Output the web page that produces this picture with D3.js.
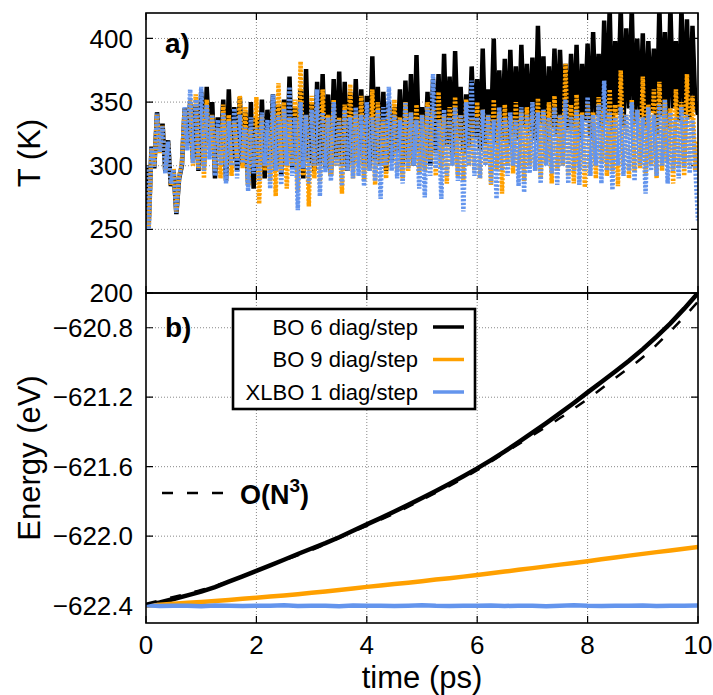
<!DOCTYPE html>
<html>
<head>
<meta charset="utf-8">
<script src="https://cdn.jsdelivr.net/npm/d3@7"></script>
<style>
  body { margin: 0; background: #fff; }
  text { font-family: "Liberation Sans", Arial, Helvetica, sans-serif; }
</style>
</head>
<body>
<svg id="chart" width="713" height="695"></svg>
<script>
// panel a) temperature, one value every 0.05 ps
const tempStep = 0.05;
const tempBO6 = [
  300, 255, 315, 298, 342, 312, 333, 295, 320, 284, 296, 262, 290, 300, 345, 316, 350, 305, 348, 296,
  358, 300, 362, 318, 350, 290, 338, 312, 352, 288, 360, 305, 346, 296, 354, 300, 342, 285, 350, 282,
  338, 298, 352, 290, 344, 302, 356, 296, 348, 292, 352, 300, 370, 298, 346, 296, 360, 290, 376, 302,
  350, 296, 366, 300, 372, 298, 356, 292, 368, 305, 374, 300, 366, 296, 358, 302, 368, 308, 360, 300,
  355, 298, 386, 305, 362, 300, 358, 296, 350, 304, 346, 310, 360, 300, 367, 305, 372, 300, 387, 310,
  346, 304, 358, 300, 368, 310, 372, 305, 388, 315, 370, 308, 390, 320, 362, 310, 356, 315, 378, 322,
  368, 312, 392, 318, 360, 325, 400, 318, 375, 320, 384, 315, 391, 325, 378, 320, 395, 330, 380, 325,
  385, 320, 410, 332, 386, 318, 378, 330, 392, 325, 391, 335, 380, 328, 388, 330, 395, 320, 380, 336,
  396, 322, 405, 340, 388, 330, 414, 335, 425, 325, 398, 340, 425, 330, 408, 345, 425, 333, 400, 338,
  404, 330, 398, 342, 392, 325, 425, 340, 405, 330, 425, 345, 398, 335, 425, 340, 415, 338, 410, 350,
  340
];
const tempBO9 = [
  300, 252, 313, 300, 340, 310, 332, 296, 318, 285, 298, 264, 292, 302, 344, 314, 352, 300, 356, 298,
  345, 290, 352, 312, 340, 296, 330, 290, 348, 300, 340, 292, 334, 306, 355, 298, 346, 284, 330, 300,
  354, 270, 340, 296, 330, 288, 345, 276, 365, 296, 350, 282, 338, 300, 352, 280, 382, 292, 340, 268,
  355, 290, 348, 286, 360, 300, 340, 292, 352, 300, 338, 278, 348, 296, 364, 290, 342, 300, 355, 288,
  340, 296, 360, 285, 350, 300, 336, 290, 344, 302, 352, 296, 338, 288, 350, 296, 342, 300, 348, 294,
  340, 296, 350, 305, 344, 292, 358, 298, 340, 286, 346, 300, 354, 292, 340, 288, 352, 300, 338, 296,
  350, 290, 344, 302, 340, 285, 352, 296, 342, 278, 348, 300, 338, 294, 350, 298, 342, 288, 346, 300,
  340, 296, 353, 290, 344, 302, 350, 286, 355, 296, 340, 300, 380, 292, 348, 286, 356, 298, 342, 283,
  350, 298, 342, 290, 354, 302, 345, 292, 360, 296, 348, 284, 375, 300, 340, 290, 352, 296, 344, 298,
  370, 292, 348, 300, 360, 290, 366, 296, 352, 302, 345, 286, 360, 298, 350, 292, 372, 300, 355, 296,
  320
];
const tempXLBO = [
  300, 250, 314, 299, 341, 311, 331, 294, 319, 286, 297, 263, 291, 301, 346, 312, 360, 302, 352, 297,
  362, 296, 348, 305, 340, 292, 336, 300, 342, 286, 335, 300, 345, 290, 340, 302, 330, 280, 338, 294,
  330, 288, 342, 300, 336, 282, 356, 296, 340, 285, 345, 300, 362, 292, 338, 265, 350, 298, 340, 286,
  344, 300, 360, 276, 342, 295, 338, 288, 350, 300, 336, 284, 344, 296, 338, 290, 346, 292, 340, 284,
  350, 296, 338, 288, 344, 274, 346, 300, 362, 296, 340, 290, 336, 286, 350, 298, 342, 300, 336, 282,
  340, 275, 346, 292, 372, 298, 336, 274, 344, 292, 338, 300, 346, 288, 340, 264, 350, 300, 367, 292,
  338, 290, 344, 300, 340, 286, 336, 274, 346, 296, 338, 292, 342, 300, 336, 284, 346, 279, 340, 294,
  350, 296, 342, 286, 344, 300, 338, 294, 346, 285, 340, 300, 352, 286, 338, 296, 344, 285, 340, 296,
  354, 292, 340, 300, 348, 286, 367, 296, 342, 281, 338, 300, 346, 292, 340, 296, 350, 288, 344, 300,
  338, 278, 346, 296, 340, 292, 348, 300, 352, 286, 342, 296, 338, 290, 346, 298, 340, 294, 336, 300,
  257
];

// panel b) energy, one value every 0.25 ps
const energyStep = 0.25;
const energyBO6 = [
  -622.400, -622.382, -622.362, -622.341, -622.319, -622.293, -622.262, -622.232, -622.200,
  -622.168, -622.136, -622.103, -622.071, -622.040, -622.006, -621.969, -621.932,
  -621.896, -621.858, -621.820, -621.780, -621.740, -621.698, -621.655, -621.610,
  -621.562, -621.512, -621.459, -621.404, -621.349, -621.292, -621.233, -621.172,
  -621.112, -621.052, -620.990, -620.923, -620.851, -620.775, -620.690, -620.600
];
const energyBO9 = [
  -622.400, -622.395, -622.389, -622.384, -622.379, -622.373, -622.367, -622.361, -622.355,
  -622.348, -622.341, -622.334, -622.326, -622.318, -622.310, -622.301, -622.292,
  -622.284, -622.276, -622.268, -622.259, -622.250, -622.242, -622.233, -622.224,
  -622.214, -622.204, -622.194, -622.184, -622.174, -622.164, -622.154, -622.144,
  -622.133, -622.123, -622.112, -622.102, -622.092, -622.082, -622.072, -622.063
];
const energyXLBO = [
  -622.398, -622.402, -622.400, -622.401, -622.403, -622.399, -622.400, -622.402, -622.400,
  -622.401, -622.398, -622.402, -622.400, -622.401, -622.403, -622.399, -622.400,
  -622.401, -622.402, -622.400, -622.398, -622.401, -622.402, -622.400, -622.401,
  -622.399, -622.402, -622.400, -622.401, -622.403, -622.400, -622.398, -622.401,
  -622.402, -622.400, -622.401, -622.399, -622.402, -622.400, -622.401, -622.399
];
// O(N^3) guide curve, one value every 0.5 ps
const fitStep = 0.5;
const energyFit = [
  -622.39, -622.35, -622.31, -622.26, -622.20, -622.14, -622.08, -622.01, -621.94,
  -621.87, -621.79, -621.71, -621.62, -621.52, -621.42, -621.32, -621.21,
  -621.09, -620.97, -620.82, -620.65
];

const timeTicks = [0, 2, 4, 6, 8, 10];
const tempTicks = [200, 250, 300, 350, 400];
const energyTicks = [-622.4, -622.0, -621.6, -621.2, -620.8];

const seriesNames = ["BO 6 diag/step", "BO 9 diag/step", "XLBO 1 diag/step"];
const seriesColors = ["#000000", "#ffa000", "#6495ed"];

const plotL = 146, plotR = 698, plotT = 13, plotM = 293, plotB = 623;

const svg = d3.select("#chart");

const x = d3.scaleLinear().domain([0, 10]).range([plotL, plotR]);
const yT = d3.scaleLinear().domain([200, 420]).range([plotM, plotT]);
const yE = d3.scaleLinear().domain([-622.5, -620.6]).range([plotB, plotM]);

const fmtE = d => d3.format(".1f")(d).replace("-", "\u2212");

function drawFrame(y, y0, y1, yTicks, yFmt, showX, clipId) {
  const g = svg.append("g");

  // dotted grid
  g.selectAll(".gx").data(timeTicks.slice(1, -1)).join("line")
    .attr("x1", d => x(d)).attr("x2", d => x(d))
    .attr("y1", y1).attr("y2", y0)
    .attr("stroke", "#888").attr("stroke-width", 1).attr("stroke-dasharray", "1,2");
  g.selectAll(".gy").data(yTicks.filter(d => y(d) > y1 + 1 && y(d) < y0 - 1)).join("line")
    .attr("x1", plotL).attr("x2", plotR)
    .attr("y1", d => y(d)).attr("y2", d => y(d))
    .attr("stroke", "#888").attr("stroke-width", 1).attr("stroke-dasharray", "1,2");

  // inward ticks on all sides
  g.selectAll(".tx").data(timeTicks).join("path")
    .attr("d", d => `M${x(d)},${y0}v-7M${x(d)},${y1}v7`)
    .attr("stroke", "#000").attr("stroke-width", 1.2);
  g.selectAll(".ty").data(yTicks).join("path")
    .attr("d", d => `M${plotL},${y(d)}h7M${plotR},${y(d)}h-7`)
    .attr("stroke", "#000").attr("stroke-width", 1.2);

  g.selectAll(".ly").data(yTicks).join("text")
    .attr("x", plotL - 13).attr("y", d => y(d)).attr("dy", "0.35em")
    .attr("text-anchor", "end").attr("font-size", 26)
    .text(yFmt);

  if (showX) {
    g.selectAll(".lx").data(timeTicks).join("text")
      .attr("x", d => x(d)).attr("y", y0 + 31)
      .attr("text-anchor", "middle").attr("font-size", 26)
      .text(d => d);
  }

  svg.append("clipPath").attr("id", clipId)
    .append("rect").attr("x", plotL).attr("y", y1).attr("width", plotR - plotL).attr("height", y0 - y1);
}

function drawBorder(y0, y1) {
  svg.append("rect")
    .attr("x", plotL).attr("y", y1).attr("width", plotR - plotL).attr("height", y0 - y1)
    .attr("fill", "none").attr("stroke", "#000").attr("stroke-width", 1.6);
}

// ---- panel a) ----
drawFrame(yT, plotM, plotT, tempTicks, d => d, false, "clipA");

const lineT = d3.line().x((d, i) => x(i * tempStep)).y(d => yT(d));
const panelA = svg.append("g").attr("clip-path", "url(#clipA)");
[tempBO6, tempBO9, tempXLBO].forEach((vals, k) => {
  panelA.append("path")
    .datum(vals)
    .attr("d", lineT)
    .attr("fill", "none")
    .attr("stroke", seriesColors[k])
    .attr("stroke-width", 4.5)
    .attr("stroke-dasharray", k === 0 ? null : "2.2,1.6");
});

// ---- panel b) ----
drawFrame(yE, plotB, plotM, energyTicks, fmtE, true, "clipB");

const panelB = svg.append("g").attr("clip-path", "url(#clipB)");
const lineE = step => d3.line().x((d, i) => x(i * step)).y(d => yE(d));
[energyBO6, energyBO9, energyXLBO].forEach((vals, k) => {
  panelB.append("path")
    .datum(vals)
    .attr("d", lineE(energyStep))
    .attr("fill", "none")
    .attr("stroke", seriesColors[k])
    .attr("stroke-width", 4.5);
});
panelB.append("path")
  .datum(energyFit)
  .attr("d", lineE(fitStep).curve(d3.curveMonotoneX))
  .attr("fill", "none")
  .attr("stroke", "#000")
  .attr("stroke-width", 2.5)
  .attr("stroke-dasharray", "11,14");

drawBorder(plotM, plotT);
drawBorder(plotB, plotM);

// panel tags
svg.append("text").attr("x", 165).attr("y", 53).attr("font-size", 28).attr("font-weight", "bold").text("a)");
svg.append("text").attr("x", 165).attr("y", 337).attr("font-size", 28).attr("font-weight", "bold").text("b)");

// legend
const legend = svg.append("g");
legend.append("rect")
  .attr("x", 233).attr("y", 309).attr("width", 242).attr("height", 100)
  .attr("fill", "#fff").attr("stroke", "#000").attr("stroke-width", 2.6);
seriesNames.forEach((name, k) => {
  const yy = 327 + k * 32.5;
  legend.append("text")
    .attr("x", 418).attr("y", yy).attr("dy", "0.35em")
    .attr("text-anchor", "end").attr("font-size", 22)
    .text(name);
  legend.append("line")
    .attr("x1", 433).attr("x2", 464).attr("y1", yy).attr("y2", yy)
    .attr("stroke", seriesColors[k]).attr("stroke-width", 3.5);
});

// O(N^3) key
svg.append("line")
  .attr("x1", 162).attr("x2", 231).attr("y1", 493).attr("y2", 493)
  .attr("stroke", "#000").attr("stroke-width", 2.5).attr("stroke-dasharray", "11,14");
const fitLabel = svg.append("text")
  .attr("x", 240).attr("y", 504).attr("font-size", 27).attr("font-weight", "bold");
fitLabel.append("tspan").text("O(N");
fitLabel.append("tspan").attr("dy", -12).attr("font-size", 19).text("3");
fitLabel.append("tspan").attr("dy", 12).text(")");

// axis titles
svg.append("text")
  .attr("transform", `translate(40,${(plotT + plotM) / 2}) rotate(-90)`)
  .attr("text-anchor", "middle").attr("font-size", 31)
  .text("T (K)");
svg.append("text")
  .attr("transform", `translate(40,${(plotM + plotB) / 2}) rotate(-90)`)
  .attr("text-anchor", "middle").attr("font-size", 31)
  .text("Energy (eV)");
svg.append("text")
  .attr("x", (plotL + plotR) / 2).attr("y", 688)
  .attr("text-anchor", "middle").attr("font-size", 31)
  .text("time (ps)");
</script>
</body>
</html>
